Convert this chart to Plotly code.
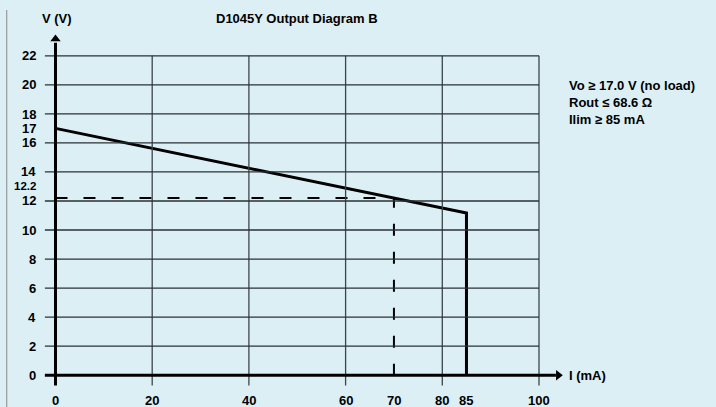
import plotly.graph_objects as go

# ---- data ----
curve_i = [0, 85, 85]          # mA
curve_v = [17.0, 11.17, 0]     # V
op_i = 70                      # mA (operating point)
op_v = 12.2                    # V
x_ticks = [0, 20, 40, 60, 70, 80, 85, 100]
y_ticks = [0, 2, 4, 6, 8, 10, 12, 14, 16, 17, 18, 20, 22]
y_extra_label = 12.2
grid_x = [20, 40, 60, 80, 100]
grid_y = [2, 4, 6, 8, 10, 12, 14, 16, 18, 20, 22]
title = "D1045Y Output Diagram B"
info_lines = ["Vo \u2265 17.0 V (no load)", "Rout \u2264 68.6 \u03a9", "Ilim \u2265 85 mA"]

BG = "#dbeff5"
FONT = "Liberation Sans, Arial, sans-serif"

fig = go.Figure()

shapes = []
for gx in grid_x:
    shapes.append(dict(type="line", xref="x", yref="y", x0=gx, x1=gx, y0=-0.7, y1=22,
                       line=dict(color="#3c4648", width=1.3)))
for gy in grid_y:
    shapes.append(dict(type="line", xref="x", yref="y", x0=-2.2, x1=100, y0=gy, y1=gy,
                       line=dict(color="#2a3234", width=1.3)))
shapes.append(dict(type="line", xref="x", yref="y", x0=-2.2, x1=103.5, y0=0, y1=0,
                   line=dict(color="black", width=3)))
shapes.append(dict(type="line", xref="x", yref="y", x0=0, x1=0, y0=-0.7, y1=22.9,
                   line=dict(color="black", width=3)))
shapes.append(dict(type="line", xref="paper", yref="paper", x0=-0.065, x1=-0.065, y0=-0.05, y1=1.066,
                   line=dict(color="#8a8a8a", width=1)))

fig.add_trace(go.Scatter(x=[104.0], y=[0], mode="markers",
                         marker=dict(symbol="triangle-right", size=9, color="black"),
                         hoverinfo="skip", showlegend=False, cliponaxis=False))
fig.add_trace(go.Scatter(x=[0], y=[23.15], mode="markers",
                         marker=dict(symbol="triangle-up", size=9, color="black"),
                         hoverinfo="skip", showlegend=False, cliponaxis=False))

fig.add_trace(go.Scatter(x=[0, op_i, op_i], y=[op_v, op_v, 0], mode="lines",
                         line=dict(color="black", width=2, dash="12px,16px"),
                         hoverinfo="skip", showlegend=False))
fig.add_trace(go.Scatter(x=curve_i, y=curve_v, mode="lines",
                         line=dict(color="black", width=3),
                         hoverinfo="skip", showlegend=False))

ann = []
tf = dict(family=FONT, size=13, color="black")
for t in y_ticks:
    ys = {18: -1, 17: 0}.get(t, 0)
    ann.append(dict(x=0, y=t, xref="x", yref="y", text="<b>%g</b>" % t, showarrow=False,
                    xanchor="right", yanchor="middle", xshift=-18, yshift=ys, font=tf))
ann.append(dict(x=0, y=y_extra_label, xref="x", yref="y", text="<b>%g</b>" % y_extra_label,
                showarrow=False, xanchor="right", yanchor="middle", xshift=-18, yshift=12,
                font=dict(family=FONT, size=11.5, color="black")))
for t in x_ticks:
    ann.append(dict(x=t, y=0, xref="x", yref="y", text="<b>%g</b>" % t, showarrow=False,
                    xanchor="center", yanchor="middle", yshift=-25, font=tf))
ann.append(dict(x=0, y=22, xref="x", yref="y", text="<b>V (V)</b>", showarrow=False,
                xanchor="left", yanchor="middle", xshift=-15.5, yshift=37, font=tf))
ann.append(dict(x=0, y=22, xref="x", yref="y", text="<b>%s</b>" % title, showarrow=False,
                xanchor="left", yanchor="middle", xshift=158, yshift=37, font=tf))
ann.append(dict(x=100, y=0, xref="x", yref="y", text="<b>I (mA)</b>", showarrow=False,
                xanchor="left", yanchor="middle", xshift=28, font=tf))
ann.append(dict(x=100, y=20, xref="x", yref="y", text="<br>".join("<b>%s</b>" % s for s in info_lines),
                showarrow=False, xanchor="left", yanchor="top", align="left", xshift=28, yshift=9,
                font=dict(family=FONT, size=13, color="black")))

fig.update_layout(
    width=716, height=407,
    margin=dict(l=41, r=148, t=34, b=10),
    paper_bgcolor=BG, plot_bgcolor=BG,
    shapes=shapes, annotations=ann,
    xaxis=dict(range=[-3, 106], visible=False, fixedrange=True),
    yaxis=dict(range=[-1.5, 23.5], visible=False, fixedrange=True),
    showlegend=False,
)

fig.write_html("out.html", config={"displayModeBar": False})
with open("out.html", "r", encoding="utf-8") as f:
    html = f.read()
html = html.replace("<body>", '<body style="margin:0;overflow:hidden">', 1)
with open("out.html", "w", encoding="utf-8") as f:
    f.write(html)
